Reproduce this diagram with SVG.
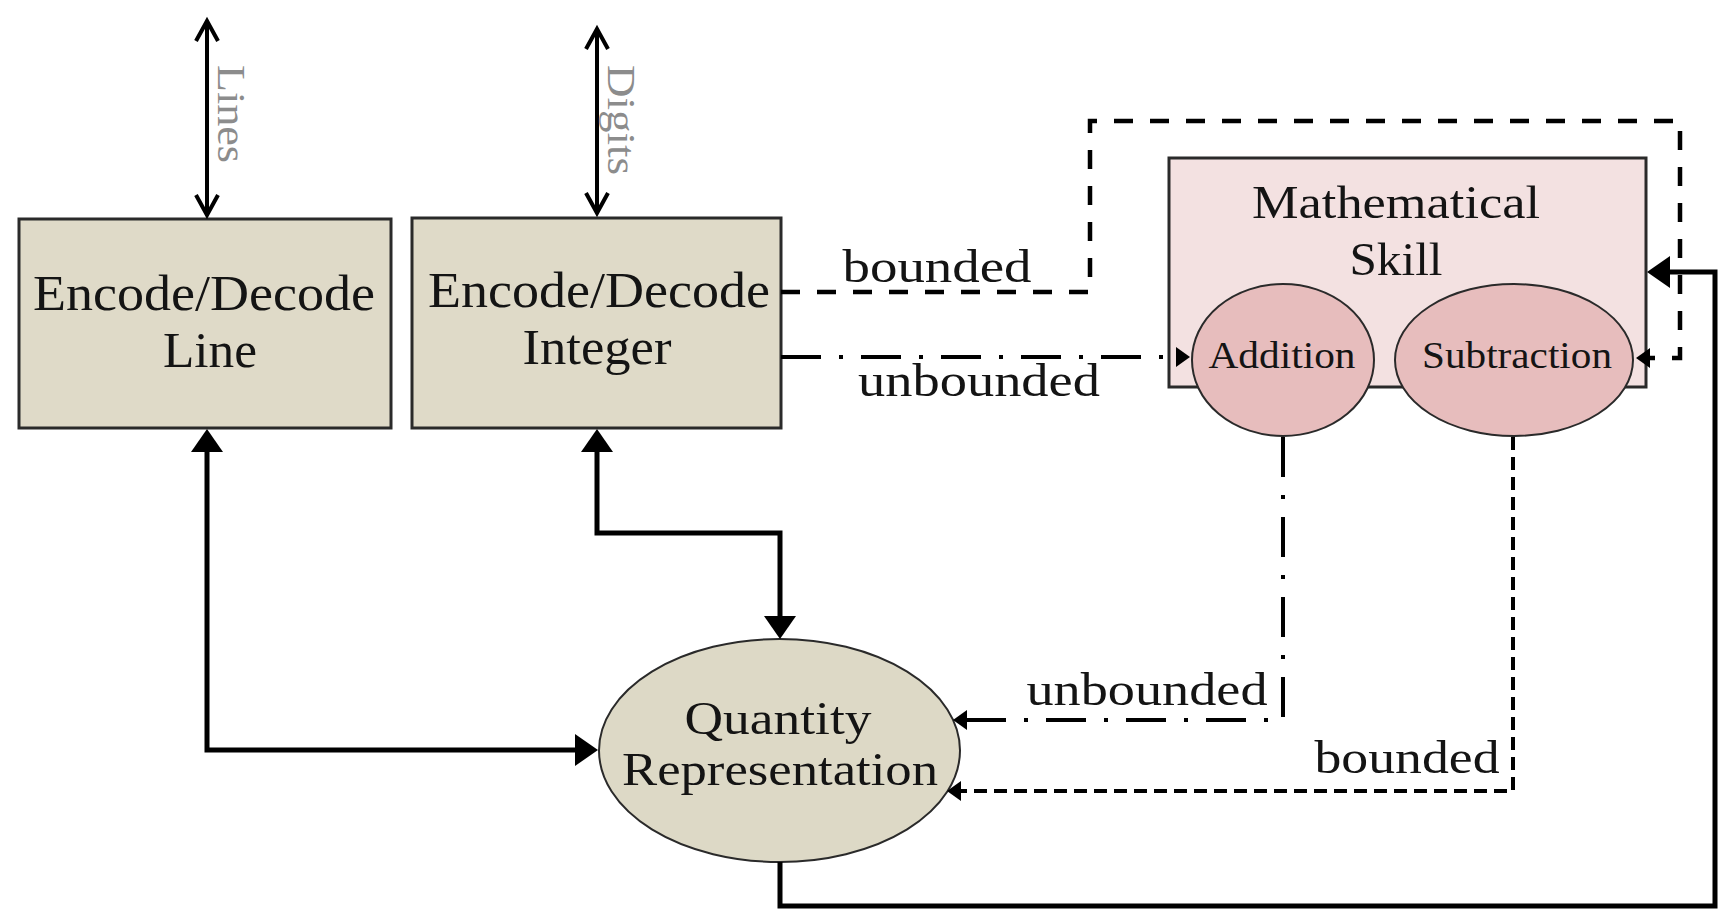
<svg xmlns="http://www.w3.org/2000/svg" width="1721" height="915" viewBox="0 0 1721 915">
  <style>
    .box { fill: #dfdac8; stroke: #2a2a2a; stroke-width: 3; }
    .qty { fill: #ddd9c6; stroke: #2a2a2a; stroke-width: 2; }
    .skill { fill: #f3e1e1; stroke: #2a2a2a; stroke-width: 3; }
    .op { fill: #e7bdbd; stroke: #2a2a2a; stroke-width: 2; }
    .t { font-family: "Liberation Serif", "Times New Roman", serif; fill: #141414; text-anchor: middle; }
    .big { font-size: 51px; }
    .mid { font-size: 47px; }
    .sm { font-size: 37px; }
    .lbl { font-size: 46px; }
    .side { font-family: "Liberation Serif", "Times New Roman", serif; font-size: 40px; fill: #8c8c8c; text-anchor: middle; }
    .solid { fill: none; stroke: #000; stroke-width: 5; stroke-linejoin: miter; }
    .thin { fill: none; stroke: #000; stroke-width: 4; }
    .dash { fill: none; stroke: #000; stroke-width: 4.5; stroke-dasharray: 19 17; }
    .dash2 { fill: none; stroke: #000; stroke-width: 4; stroke-dasharray: 13 7; }
    .dashdot { fill: none; stroke: #000; stroke-width: 4; stroke-dasharray: 40 18 4 18; }
  </style>
  <defs>
    <marker id="big" markerUnits="userSpaceOnUse" markerWidth="30" markerHeight="40" refX="0" refY="0" orient="auto-start-reverse" overflow="visible">
      <path d="M0,-16 L23,0 L0,16 z" fill="#000"/>
    </marker>
    <marker id="small" markerUnits="userSpaceOnUse" markerWidth="20" markerHeight="24" refX="0" refY="0" orient="auto-start-reverse" overflow="visible">
      <path d="M0,-10 L14,0 L0,10 z" fill="#000"/>
    </marker>
    <marker id="open" markerUnits="userSpaceOnUse" markerWidth="30" markerHeight="30" refX="0" refY="0" orient="auto-start-reverse" overflow="visible">
      <path d="M-20,-11 L0,0 L-20,11" fill="none" stroke="#000" stroke-width="4"/>
    </marker>
  </defs>
  <rect width="1721" height="915" fill="#ffffff"/>

  <g id="node-line">
    <rect class="box" x="19" y="219" width="372" height="209"/>
    <text class="t big" x="204" y="310" textLength="342" lengthAdjust="spacingAndGlyphs">Encode/Decode</text>
    <text class="t big" x="210" y="367" textLength="94" lengthAdjust="spacingAndGlyphs">Line</text>
  </g>

  <g id="node-integer">
    <rect class="box" x="412" y="218" width="369" height="210"/>
    <text class="t big" x="599" y="307" textLength="342" lengthAdjust="spacingAndGlyphs">Encode/Decode</text>
    <text class="t big" x="597" y="364" textLength="149" lengthAdjust="spacingAndGlyphs">Integer</text>
  </g>

  <g id="node-skill">
    <rect class="skill" x="1169" y="158" width="477" height="229"/>
    <text class="t mid" x="1396" y="218" textLength="288" lengthAdjust="spacingAndGlyphs">Mathematical</text>
    <text class="t mid" x="1396" y="275" textLength="93" lengthAdjust="spacingAndGlyphs">Skill</text>
  </g>

  <g id="node-addition">
    <ellipse class="op" cx="1283" cy="360" rx="91" ry="76"/>
    <text class="t sm" x="1282" y="368" textLength="147" lengthAdjust="spacingAndGlyphs">Addition</text>
  </g>

  <g id="node-subtraction">
    <ellipse class="op" cx="1514" cy="360" rx="119" ry="76"/>
    <text class="t sm" x="1517" y="368" textLength="190" lengthAdjust="spacingAndGlyphs">Subtraction</text>
  </g>

  <g id="node-quantity">
    <ellipse class="qty" cx="779.5" cy="750.5" rx="180.5" ry="111.5"/>
    <text class="t mid" x="778" y="734" textLength="187" lengthAdjust="spacingAndGlyphs">Quantity</text>
    <text class="t mid" x="780" y="785" textLength="316" lengthAdjust="spacingAndGlyphs">Representation</text>
  </g>

  <g id="connectors">
    <path class="thin" d="M207,21 V215" marker-start="url(#open)" marker-end="url(#open)"/>
    <text class="side" transform="translate(218,114) rotate(90)" textLength="98" lengthAdjust="spacingAndGlyphs">Lines</text>
    <path class="thin" d="M597,29 V213" marker-start="url(#open)" marker-end="url(#open)"/>
    <text class="side" transform="translate(608,120) rotate(90)" textLength="110" lengthAdjust="spacingAndGlyphs">Digits</text>

    <path class="solid" d="M207,452 V750 H575" marker-start="url(#big)" marker-end="url(#big)"/>
    <path class="solid" d="M597,452 V533 H780 V616" marker-start="url(#big)" marker-end="url(#big)"/>
    <path class="solid" d="M780,862 V906 H1715 V272 H1670" marker-end="url(#big)"/>

    <path class="dash" d="M781,292 H1090 V121 H1680 V358 H1650" marker-end="url(#small)"/>
    <text class="t lbl" x="937" y="282" textLength="189" lengthAdjust="spacingAndGlyphs">bounded</text>
    <path class="dashdot" d="M781,357 H1176" marker-end="url(#small)"/>
    <text class="t lbl" x="979" y="396" textLength="242" lengthAdjust="spacingAndGlyphs">unbounded</text>

    <path class="dashdot" d="M1283,437 V720 H967" marker-end="url(#small)"/>
    <text class="t lbl" x="1147" y="705" textLength="241" lengthAdjust="spacingAndGlyphs">unbounded</text>
    <path class="dash2" d="M1513,437 V791 H961" marker-end="url(#small)"/>
    <text class="t lbl" x="1407" y="773" textLength="185" lengthAdjust="spacingAndGlyphs">bounded</text>
  </g>
</svg>
